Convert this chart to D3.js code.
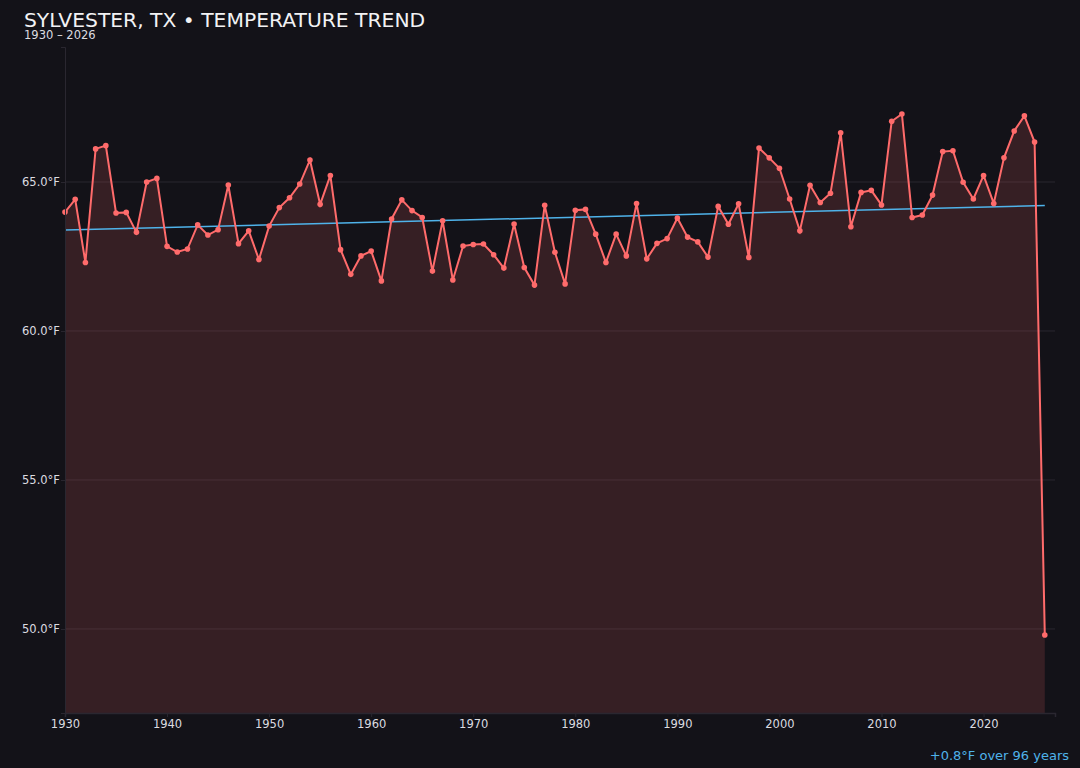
<!DOCTYPE html>
<html>
<head>
<meta charset="utf-8">
<script src="https://cdn.jsdelivr.net/npm/d3@7"></script>
<style>
  html, body { margin: 0; padding: 0; background: #131218; }
  svg { display: block; font-family: "DejaVu Sans", sans-serif; }
</style>
</head>
<body>
<svg id="chart"></svg>
<script>
// yearly mean temperature
let years = d3.range(1930, 2027)
let temps = [
  63.99, 64.42, 62.30, 66.11, 66.22, 63.96, 63.98, 63.31, 65.00, 65.12,
  62.84, 62.65, 62.75, 63.56, 63.22, 63.40, 64.90, 62.93, 63.36, 62.40,
  63.52, 64.14, 64.47, 64.93, 65.74, 64.25, 65.22, 62.73, 61.90, 62.52,
  62.68, 61.68, 63.76, 64.40, 64.04, 63.81, 62.01, 63.70, 61.71, 62.85,
  62.90, 62.92, 62.56, 62.11, 63.59, 62.13, 61.54, 64.22, 62.64, 61.58,
  64.05, 64.08, 63.25, 62.30, 63.25, 62.52, 64.28, 62.42, 62.94, 63.10,
  63.79, 63.15, 62.99, 62.48, 64.18, 63.58, 64.27, 62.47, 66.14, 65.81,
  65.46, 64.43, 63.36, 64.89, 64.31, 64.62, 66.65, 63.50, 64.65, 64.72,
  64.23, 67.04, 67.28, 63.81, 63.89, 64.56, 66.02, 66.05, 64.99, 64.43,
  65.22, 64.28, 65.81, 66.71, 67.22, 66.34, 49.80
]
let yTicks = [50, 55, 60, 65]
let xTicks = [1930, 1940, 1950, 1960, 1970, 1980, 1990, 2000, 2010, 2020]
let trendEnds = [63.39, 64.21]   // fitted line at first and last year

let values = years.map((y, i) => [y, temps[i]])

let width = 1080
let height = 768
let padLeft = 65, padRight = 1055, padTop = 47, padBottom = 713

let svg = d3.select('#chart').attr('width', width).attr('height', height)

svg.append('rect').attr('width', width).attr('height', height).attr('fill', '#131218')

let xScale = d3.scaleLinear().domain([1930, 2027]).range([padLeft, padRight])
let yScale = d3.scaleLinear().domain([47.18, 69.53]).range([padBottom, padTop])

// grid lines
svg.append('g')
    .selectAll('line')
    .data(yTicks)
    .enter()
    .append('line')
    .attr('x1', padLeft)
    .attr('x2', padRight)
    .attr('y1', d => yScale(d))
    .attr('y2', d => yScale(d))
    .attr('stroke', '#2a2730')
    .attr('stroke-width', 1)

// area under the line
let area = d3.area()
    .x(d => xScale(d[0]))
    .y0(padBottom)
    .y1(d => yScale(d[1]))

svg.append('path')
    .datum(values)
    .attr('d', area)
    .attr('fill', '#ff6b6b')
    .attr('fill-opacity', 0.15)

// trend
svg.append('line')
    .attr('x1', xScale(years[0]))
    .attr('x2', xScale(years[years.length - 1]))
    .attr('y1', yScale(trendEnds[0]))
    .attr('y2', yScale(trendEnds[1]))
    .attr('stroke', '#4fb3ea')
    .attr('stroke-width', 1.5)

let line = d3.line()
    .x(d => xScale(d[0]))
    .y(d => yScale(d[1]))

svg.append('path')
    .datum(values)
    .attr('d', line)
    .attr('fill', 'none')
    .attr('stroke', '#ff6b6b')
    .attr('stroke-width', 2)

svg.append('g')
    .selectAll('circle')
    .data(values)
    .enter()
    .append('circle')
    .attr('cx', d => xScale(d[0]))
    .attr('cy', d => yScale(d[1]))
    .attr('r', 2.8)
    .attr('fill', '#ff6b6b')

// axes
let xAxis = d3.axisBottom(xScale).tickValues(xTicks).tickFormat(d3.format('d')).tickSize(4)
let yAxis = d3.axisLeft(yScale).tickValues(yTicks).tickFormat(d => d.toFixed(1) + '°F').tickSize(4)

let gx = svg.append('g')
    .attr('transform', 'translate(0,' + padBottom + ')')
    .call(xAxis)
gx.select('.domain').attr('stroke', '#2a2730').attr('stroke-width', 1.5)

let gy = svg.append('g')
    .attr('transform', 'translate(' + padLeft + ',0)')
    .call(yAxis)
gy.select('.domain').attr('stroke', '#2a2730')

svg.selectAll('.tick line').attr('stroke', '#2a2730')
svg.selectAll('.tick text')
    .attr('fill', '#dcdce0')
    .style('font-size', '11.5px')
    .style('font-family', '"DejaVu Sans", sans-serif')
gx.selectAll('.tick text').attr('dy', '0.71em').attr('y', 7)
gy.selectAll('.tick text').attr('x', -5)

// titles
svg.append('text')
    .attr('x', 24)
    .attr('y', 27)
    .attr('fill', '#f2f2f4')
    .style('font-size', '20.3px')
    .text('SYLVESTER, TX • TEMPERATURE TREND')

svg.append('text')
    .attr('x', 24)
    .attr('y', 39)
    .attr('fill', '#dcdce0')
    .style('font-size', '11.5px')
    .text(years[0] + ' – ' + years[years.length - 1])

let change = trendEnds[1] - trendEnds[0]
svg.append('text')
    .attr('x', 1069)
    .attr('y', 760)
    .attr('text-anchor', 'end')
    .attr('fill', '#4fb3ea')
    .style('font-size', '13px')
    .text((change >= 0 ? '+' : '') + change.toFixed(1) + '°F over ' + (years[years.length - 1] - years[0]) + ' years')
</script>
</body>
</html>
